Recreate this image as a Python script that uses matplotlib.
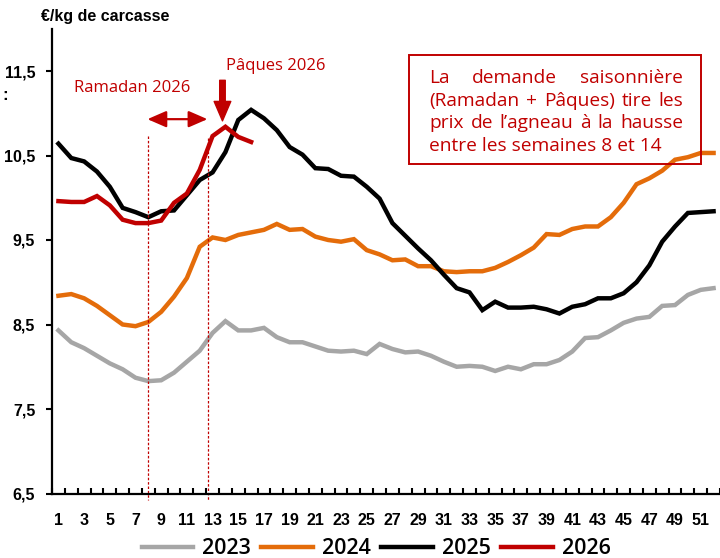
import numpy as np
import matplotlib
matplotlib.use('Agg')
import matplotlib.pyplot as plt
from matplotlib.patches import Rectangle

plt.rcParams['font.family'] = ['Open Sans', 'DejaVu Sans']

weeks = np.arange(1, 53)

p2023 = [8.43, 8.29, 8.22, 8.13, 8.04, 7.97, 7.87, 7.83, 7.84, 7.93,
         8.06, 8.19, 8.40, 8.54, 8.43, 8.43, 8.46, 8.35, 8.29, 8.29,
         8.24, 8.19, 8.18, 8.19, 8.15, 8.27, 8.21, 8.17, 8.18, 8.13,
         8.06, 8.00, 8.01, 8.00, 7.95, 8.00, 7.97, 8.03, 8.03, 8.08,
         8.18, 8.34, 8.35, 8.43, 8.52, 8.57, 8.59, 8.72, 8.73, 8.85,
         8.91, 8.93]
p2024 = [8.84, 8.86, 8.81, 8.72, 8.61, 8.50, 8.48, 8.53, 8.65, 8.83,
         9.05, 9.42, 9.53, 9.50, 9.56, 9.59, 9.62, 9.69, 9.62, 9.63,
         9.54, 9.50, 9.48, 9.51, 9.38, 9.33, 9.26, 9.27, 9.19, 9.19,
         9.13, 9.12, 9.13, 9.13, 9.17, 9.24, 9.32, 9.41, 9.57, 9.56,
         9.63, 9.66, 9.66, 9.77, 9.94, 10.16, 10.23, 10.32, 10.45, 10.48,
         10.53, 10.53]
p2025 = [10.64, 10.47, 10.43, 10.31, 10.13, 9.88, 9.83, 9.77, 9.84, 9.85,
         10.03, 10.21, 10.30, 10.54, 10.92, 11.04, 10.94, 10.80, 10.60, 10.51,
         10.35, 10.34, 10.26, 10.25, 10.13, 9.99, 9.70, 9.55, 9.40, 9.26,
         9.09, 8.93, 8.88, 8.67, 8.77, 8.70, 8.70, 8.71, 8.68, 8.63,
         8.71, 8.74, 8.81, 8.81, 8.87, 9.00, 9.20, 9.48, 9.66, 9.82,
         9.83, 9.84]
p2026 = [9.96, 9.95, 9.95, 10.02, 9.91, 9.74, 9.70, 9.70, 9.73, 9.94,
         10.05, 10.33, 10.73, 10.84, 10.72, 10.66]

series = [('2023', p2023, '#A6A6A6'),
          ('2024', p2024, '#E46C0A'),
          ('2025', p2025, '#000000'),
          ('2026', p2026, '#C00000')]

yticks = [6.5, 7.5, 8.5, 9.5, 10.5, 11.5]
ytick_labels = ['6,5', '7,5', '8,5', '9,5', '10,5', '11,5']
xticks = list(range(1, 53, 2))

red = '#C00000'

fig = plt.figure(figsize=(7.2, 5.58), dpi=100)
ax = fig.add_axes([52 / 720, 1 - 493.5 / 558, 1 - 52 / 720, (493.5 - 28.75) / 558])

for name, vals, col in series:
    ax.plot(weeks[:len(vals)], vals, color=col, lw=3.2, label=name,
            solid_joinstyle='miter')

ax.set_xlim(0.5, 52.5)
ax.set_ylim(6.5, 12.0)
for s in ['top', 'right']:
    ax.spines[s].set_visible(False)
for s in ['left', 'bottom']:
    ax.spines[s].set_linewidth(1.6)

ax.set_yticks(yticks)
ax.set_yticklabels(ytick_labels, fontfamily='Liberation Sans',
                   fontweight='bold', fontsize=11.5)
ax.tick_params(axis='y', direction='out', length=4, width=1.5, pad=8)

ax.set_xticks(xticks)
ax.set_xticklabels([str(w) for w in xticks], fontfamily='Liberation Sans',
                   fontweight='bold', fontsize=11.5)
ax.set_xticks(np.arange(0.5, 53, 1), minor=True)
ax.tick_params(axis='x', which='major', length=0, pad=14)
ax.tick_params(axis='x', which='minor', direction='in', length=4, width=1.5)

# Ramadan / Paques markers
ax.plot([8, 8], [10.73, 6.42], color=red, lw=0.9, ls=(0, (2, 1.5)), clip_on=False)
ax.plot([12.68, 12.68], [10.71, 6.42], color=red, lw=0.9, ls=(0, (2, 1.5)), clip_on=False)
ax.annotate('', xy=(12.6, 10.93), xytext=(7.93, 10.93),
            arrowprops=dict(arrowstyle='<|-|>,head_length=1.15,head_width=0.5',
                            color=red, lw=1.6, shrinkA=0, shrinkB=0,
                            mutation_scale=10))
ax.annotate('', xy=(13.77, 10.91), xytext=(13.77, 11.39),
            arrowprops=dict(arrowstyle='simple,head_length=1.4,head_width=1.2,tail_width=0.4',
                            color=red, shrinkA=0, shrinkB=0, mutation_scale=10))
ax.text(6.76, 11.25, 'Ramadan 2026', color=red, fontsize=12, ha='center', va='baseline')
ax.text(17.9, 11.51, 'Pâques 2026', color=red, fontsize=12, ha='center', va='baseline')

# title and stray label
fig.text(41 / 720, 1 - 21 / 558, '€/kg de carcasse', fontfamily='Liberation Sans',
         fontweight='bold', fontsize=11.5, va='baseline')
fig.text(2 / 720, 1 - 100 / 558, ':', fontfamily='Liberation Sans',
         fontweight='bold', fontsize=12, va='baseline')

# text box
fig.patches.append(Rectangle((409 / 720, 1 - 164 / 558), 292 / 720, 109 / 558,
                             transform=fig.transFigure, fill=False,
                             edgecolor=red, lw=1.4))
box_lines = ['La demande saisonnière',
             '(Ramadan + Pâques) tire les',
             'prix de l’agneau à la hausse',
             'entre les semaines 8 et 14']
baselines = [83, 106, 128, 151]
left, right = 429, 683
renderer = fig.canvas.get_renderer()
for i, line in enumerate(box_lines):
    y = 1 - baselines[i] / 558
    if i == len(box_lines) - 1:
        fig.text(left / 720, y, line, color=red, fontsize=13.8, va='baseline')
        continue
    words = line.split()
    ts = [fig.text(0, y, w, color=red, fontsize=13.8, va='baseline') for w in words]
    widths = [t.get_window_extent(renderer).width for t in ts]
    gap = (right - left - sum(widths)) / (len(words) - 1)
    x = left
    for t, wd in zip(ts, widths):
        t.set_x(x / 720)
        x += wd + gap

fig.legend(loc='center', bbox_to_anchor=(376 / 720, 1 - 549 / 558), ncol=4,
           frameon=False, handlelength=2.4, handletextpad=0.4,
           columnspacing=0.5, prop={'size': 15.5, 'weight': 600})

fig.savefig('out.png', dpi=100)
